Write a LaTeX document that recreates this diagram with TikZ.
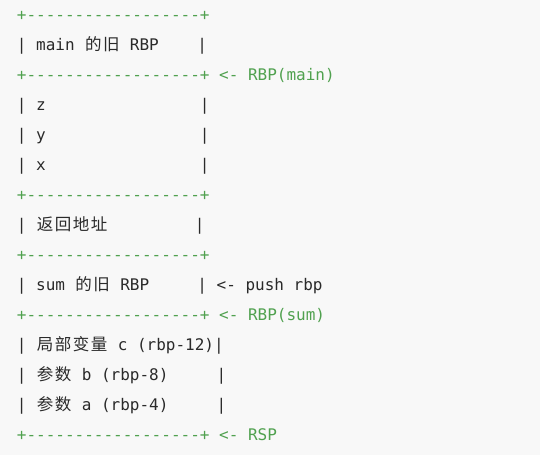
\documentclass[tikz,border=0pt]{standalone}
\usepackage{fontspec}
\setmonofont{DejaVu Sans Mono}
\newfontfamily\cjkfont{Noto Sans CJK SC}
\definecolor{bgc}{HTML}{F8F8F8}
\definecolor{codefg}{HTML}{2A2A2A}
\definecolor{codegreen}{HTML}{50A14F}
\newcommand\cc[1]{\makebox[18pt][c]{\cjkfont\fontsize{16.5}{16.5}\selectfont #1}}
\tikzset{
  row/.style={anchor=base west, inner sep=0pt, outer sep=0pt,
    font=\ttfamily\fontsize{16}{16}\selectfont, text=codefg},
  addrow/.style={row, text=codegreen}
}
\begin{document}
\begin{tikzpicture}[x=1pt, y=-1pt]
\fill[bgc] (0,0) rectangle (540,455);
\useasboundingbox (0,0) rectangle (540,455);
\def\L{16.9}
\node[addrow] (r0)  at (\L, 20)  {+------------------+};
\node[row]    (r1)  at (\L, 50)  {|~main~\cc{的}\cc{旧}~RBP~~~~|};
\node[addrow] (r2)  at (\L, 80)  {+------------------+~<-~RBP(main)};
\node[row]    (r3)  at (\L, 110) {|~z~~~~~~~~~~~~~~~~|};
\node[row]    (r4)  at (\L, 140) {|~y~~~~~~~~~~~~~~~~|};
\node[row]    (r5)  at (\L, 170) {|~x~~~~~~~~~~~~~~~~|};
\node[addrow] (r6)  at (\L, 200) {+------------------+};
\node[row]    (r7)  at (\L, 230) {|~\cc{返}\cc{回}\cc{地}\cc{址}~~~~~~~~~|};
\node[addrow] (r8)  at (\L, 260) {+------------------+};
\node[row]    (r9)  at (\L, 290) {|~sum~\cc{的}\cc{旧}~RBP~~~~~|~<-~push~rbp};
\node[addrow] (r10) at (\L, 320) {+------------------+~<-~RBP(sum)};
\node[row]    (r11) at (\L, 350) {|~\cc{局}\cc{部}\cc{变}\cc{量}~c~(rbp-12)|};
\node[row]    (r12) at (\L, 380) {|~\cc{参}\cc{数}~b~(rbp-8)~~~~~|};
\node[row]    (r13) at (\L, 410) {|~\cc{参}\cc{数}~a~(rbp-4)~~~~~|};
\node[addrow] (r14) at (\L, 440) {+------------------+~<-~RSP};
\end{tikzpicture}
\end{document}
